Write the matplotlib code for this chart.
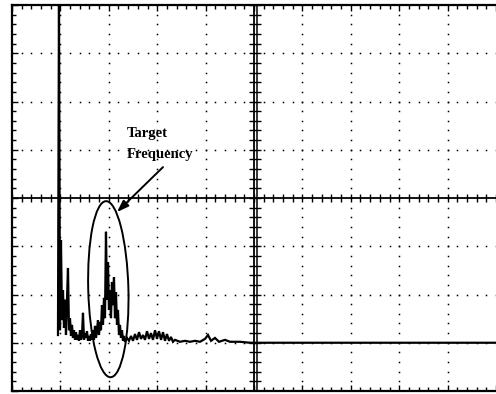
import numpy as np
import matplotlib.pyplot as plt
from matplotlib.patches import Ellipse

# Screen: 10 horizontal x 8 vertical divisions
N_XDIV = 10
N_YDIV = 8

# Spectrum trace, dense part (one bin every 1/48.4 division starting at 0.95 div)
dense_start = 0.95
dense_step = 1 / 48.4
dense_amp = [
    1.16, 8.20, 1.26, 3.13, 1.47, 2.09, 1.31, 1.89, 1.16, 1.89,
    2.55, 1.26, 1.51, 1.14, 1.37, 1.10, 1.26, 1.06, 1.22, 1.06,
    1.16, 1.04, 1.26, 1.06, 1.14, 1.62, 1.06, 1.20, 1.10, 1.24,
    1.04, 1.14, 1.04, 1.18, 1.06, 1.26, 1.06, 1.35, 1.10, 1.26,
    1.47, 1.16, 1.43, 1.26, 1.78, 1.37, 1.93, 1.51, 3.30, 1.89,
    2.67, 1.68, 2.09, 1.51, 2.26, 1.78, 2.36, 1.51, 2.05, 1.37,
    1.68, 1.16, 1.37, 1.10, 1.26, 1.04, 1.14, 1.02,
]

# Spectrum trace, sparse tail
tail_freq = [
    2.376, 2.417, 2.459, 2.500, 2.541, 2.583, 2.624, 2.665, 2.707, 2.748,
    2.789, 2.831, 2.872, 2.913, 2.955, 2.996, 3.037, 3.079, 3.120, 3.161,
    3.202, 3.244, 3.285, 3.326, 3.368, 3.471, 3.574, 3.678, 3.781, 3.884,
    3.988, 4.050, 4.112, 4.194, 4.277, 4.401, 4.504, 4.711, 4.917, 6.0,
    7.5, 10.0,
]
tail_amp = [
    1.10, 1.04, 1.14, 1.04, 1.18, 1.06, 1.22, 1.08, 1.16, 1.06,
    1.24, 1.08, 1.20, 1.06, 1.26, 1.08, 1.24, 1.06, 1.22, 1.04,
    1.18, 1.04, 1.12, 1.02, 1.06, 1.02, 1.04, 1.02, 1.04, 1.02,
    1.08, 1.16, 1.04, 1.10, 1.02, 1.06, 1.02, 1.02, 1.00, 1.00,
    1.00, 1.00,
]

label_lines = ["Target", "Frequency"]

dense_freq = dense_start + dense_step * np.arange(len(dense_amp))
freq = np.concatenate([dense_freq, tail_freq])
amp = np.concatenate([dense_amp, tail_amp])

fig = plt.figure(figsize=(4.96, 3.94), dpi=100)
ax = fig.add_axes([12 / 496, 3 / 394, 484 / 496, 386 / 394])
ax.set_xlim(0, N_XDIV)
ax.set_ylim(0, N_YDIV)

# Frame
for side in ("left", "bottom", "top"):
    ax.spines[side].set_linewidth(1.6)
ax.spines["right"].set_visible(False)
ax.set_xticks(np.arange(0, N_XDIV + 1, 1))
ax.set_yticks(np.arange(0, N_YDIV + 1, 1))
ax.set_xticks(np.arange(0, N_XDIV + 0.01, 0.2), minor=True)
ax.set_yticks(np.arange(0, N_YDIV + 0.01, 0.2), minor=True)
ax.tick_params(which="both", direction="in", top=True, bottom=True,
               left=True, right=False, labelbottom=False, labelleft=False,
               color="black", width=1.0)
ax.tick_params(which="major", length=4)
ax.tick_params(which="minor", length=3)

# Dotted graticule
minor_x = np.arange(0, N_XDIV + 0.01, 0.2)
minor_y = np.arange(0, N_YDIV + 0.01, 0.2)
for yv in range(1, N_YDIV):
    if yv == N_YDIV // 2:
        continue
    ax.plot(minor_x, np.full_like(minor_x, yv), ls="none", marker="s",
            ms=1.1, color="black", mew=0)
for xv in range(1, N_XDIV):
    if xv == N_XDIV // 2:
        continue
    ax.plot(np.full_like(minor_y, xv), minor_y, ls="none", marker="s",
            ms=1.1, color="black", mew=0)

# Centre axes with subdivision ticks
cx = N_XDIV / 2
cy = N_YDIV / 2
ax.axhline(cy, color="black", lw=1.3)
ax.axvline(cx, color="black", lw=1.3)
ax.axvline(cx + 0.06, color="black", lw=1.1)
ax.plot(minor_x, np.full_like(minor_x, cy), ls="none", marker="|",
        ms=6, mew=1.0, color="black")
ax.plot(np.full_like(minor_y, cx + 0.03), minor_y, ls="none", marker="_",
        ms=8, mew=1.0, color="black")

# Trace
ax.plot(freq, amp, color="black", lw=1.6, solid_joinstyle="miter")

# Annotation: ellipse around the target peaks and arrow
ax.add_patch(Ellipse((1.99, 2.11), 0.83, 3.65, angle=1.5, fill=False,
                     edgecolor="black", lw=1.4))
ax.annotate("", xy=(2.17, 3.71), xytext=(3.12, 4.64),
            arrowprops=dict(arrowstyle="-|>,head_length=0.7,head_width=0.25",
                            color="black", lw=1.4, shrinkA=0, shrinkB=0))
ax.text(2.376, 5.26, label_lines[0], family="Liberation Serif",
        fontsize=10.5, fontweight="bold", ha="left", va="baseline")
ax.text(2.376, 4.83, label_lines[1], family="Liberation Serif",
        fontsize=10.5, fontweight="bold", ha="left", va="baseline")

fig.savefig("out.png", dpi=100)
